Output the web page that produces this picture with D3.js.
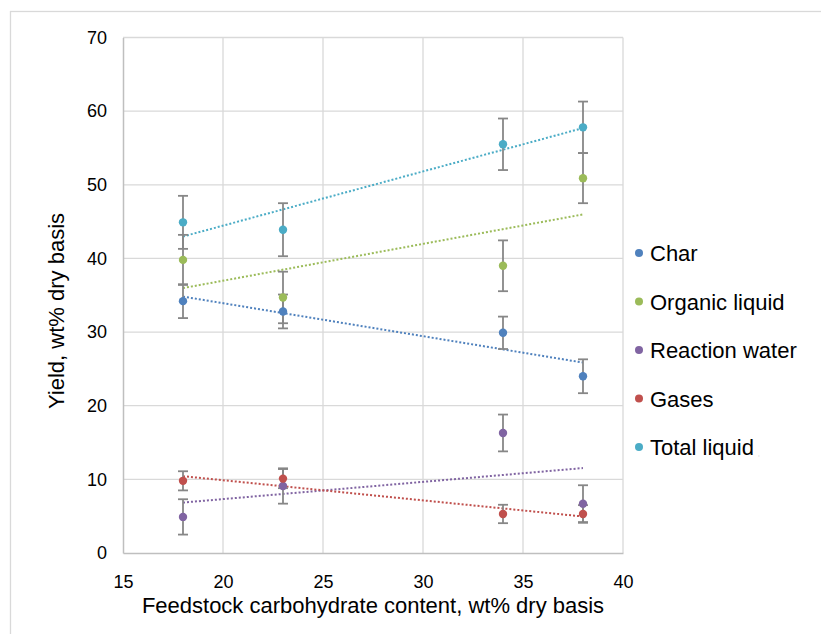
<!DOCTYPE html>
<html>
<head>
<meta charset="utf-8">
<script src="https://cdn.jsdelivr.net/npm/d3@7"></script>
<style>
  html, body { margin: 0; padding: 0; background: #fff; }
  svg { display: block; font-family: "Liberation Sans", Arial, sans-serif; }
</style>
</head>
<body>
<svg id="chart" width="821" height="634"></svg>
<script>
// Feedstock carbohydrate content (x) and product yields (wt% dry basis)
const carbs = [18, 23, 34, 38];
const seriesNames = ["Char", "Organic liquid", "Reaction water", "Gases", "Total liquid"];
const seriesColors = ["#4f81bd", "#9bbb59", "#8064a2", "#c0504d", "#4bacc6"];
const charYield = [34.2, 32.8, 29.9, 24.0];
const charErr = [2.3, 2.3, 2.2, 2.3];
const organicYield = [39.8, 34.7, 39.0, 50.9];
const organicErr = [3.4, 3.5, 3.45, 3.4];
const waterYield = [4.9, 9.1, 16.3, 6.7];
const waterErr = [2.4, 2.4, 2.5, 2.5];
const gasYield = [9.8, 10.1, 5.3, 5.3];
const gasErr = [1.3, 1.3, 1.25, 1.2];
const totalLiquidYield = [44.9, 43.9, 55.5, 57.8];
const totalLiquidErr = [3.6, 3.6, 3.5, 3.5];
const xTicks = [15, 20, 25, 30, 35, 40];
const yTicks = [0, 10, 20, 30, 40, 50, 60, 70];

const values = [charYield, organicYield, waterYield, gasYield, totalLiquidYield];
const errors = [charErr, organicErr, waterErr, gasErr, totalLiquidErr];
const series = seriesNames.map((name, i) => ({
  name, color: seriesColors[i],
  points: carbs.map((c, j) => ({ x: c, y: values[i][j], e: errors[i][j] }))
}));

const svg = d3.select("#chart");
const plot = { left: 123, right: 623, top: 37.5, bottom: 553 };
const x = d3.scaleLinear().domain([15, 40]).range([plot.left, plot.right]);
const y = d3.scaleLinear().domain([0, 70]).range([plot.bottom, plot.top]);

// chart area frame
svg.append("rect").attr("x", 10.5).attr("y", 11.5).attr("width", 830).attr("height", 640)
  .attr("fill", "none").attr("stroke", "#d9d9d9").attr("stroke-width", 1.3);

// gridlines
const grid = svg.append("g");
grid.selectAll("line.h").data(yTicks.filter(t => t > 0)).join("line")
  .attr("x1", plot.left).attr("x2", plot.right)
  .attr("y1", d => y(d)).attr("y2", d => y(d))
  .attr("stroke", "#d9d9d9").attr("stroke-width", 1.3);
grid.selectAll("line.v").data(xTicks.filter(t => t > 15)).join("line")
  .attr("x1", d => x(d)).attr("x2", d => x(d))
  .attr("y1", plot.top).attr("y2", plot.bottom)
  .attr("stroke", "#d9d9d9").attr("stroke-width", 1.3);

// axes
const xAxis = svg.append("g").attr("transform", `translate(0,${plot.bottom})`)
  .call(d3.axisBottom(x).tickValues(xTicks).tickSize(0).tickPadding(22));
const yAxis = svg.append("g").attr("transform", `translate(${plot.left},0)`)
  .call(d3.axisLeft(y).tickValues(yTicks).tickSize(0).tickPadding(16));
[xAxis, yAxis].forEach(a => {
  a.select(".domain").attr("stroke", "#bfbfbf").attr("stroke-width", 1.5);
  a.selectAll("text").attr("font-size", 18).attr("fill", "#000")
    .attr("font-family", "Liberation Sans, Arial, sans-serif");
});

// axis titles
svg.append("text").attr("x", 373).attr("y", 613).attr("text-anchor", "middle")
  .attr("font-size", 22).attr("fill", "#000").text("Feedstock carbohydrate content, wt% dry basis");
svg.append("text").attr("transform", "translate(64,311) rotate(-90)").attr("text-anchor", "middle")
  .attr("font-size", 22).attr("fill", "#000").text("Yield, wt% dry basis");

// linear trendlines (least squares over the plotted points)
function fit(pts) {
  const mx = d3.mean(pts, p => p.x), my = d3.mean(pts, p => p.y);
  const sxy = d3.sum(pts, p => (p.x - mx) * (p.y - my));
  const sxx = d3.sum(pts, p => (p.x - mx) ** 2);
  const b = sxy / sxx;
  return xv => my + b * (xv - mx);
}
const trends = svg.append("g");
series.forEach(s => {
  const f = fit(s.points);
  const x0 = d3.min(carbs), x1 = d3.max(carbs);
  trends.append("line")
    .attr("x1", x(x0)).attr("y1", y(f(x0)))
    .attr("x2", x(x1)).attr("y2", y(f(x1)))
    .attr("stroke", s.color).attr("stroke-width", 2)
    .attr("stroke-dasharray", "2,2");
});

// error bars
const bars = svg.append("g").attr("stroke", "#878787").attr("stroke-width", 1.8);
series.forEach(s => {
  s.points.forEach(p => {
    const cx = x(p.x);
    bars.append("line").attr("x1", cx).attr("x2", cx).attr("y1", y(p.y + p.e)).attr("y2", y(p.y - p.e));
    [p.y + p.e, p.y - p.e].forEach(v => {
      bars.append("line").attr("x1", cx - 5).attr("x2", cx + 5).attr("y1", y(v)).attr("y2", y(v));
    });
  });
});

// markers
const marks = svg.append("g");
series.forEach(s => {
  marks.selectAll(null).data(s.points).join("circle")
    .attr("cx", d => x(d.x)).attr("cy", d => y(d.y)).attr("r", 4.2)
    .attr("fill", s.color);
});

// legend
const legend = svg.append("g").attr("transform", "translate(639,253)");
const rowH = 48.5;
series.forEach((s, i) => {
  const g = legend.append("g").attr("transform", `translate(0,${i * rowH})`);
  g.append("circle").attr("r", 4).attr("fill", s.color);
  g.append("text").attr("x", 11).attr("y", 8).attr("font-size", 22).attr("fill", "#000").text(s.name);
});
legend.append("text").attr("x", 119).attr("y", 4 * rowH + 9).attr("font-size", 6)
  .attr("fill", "#aaa").text(",");
</script>
</body>
</html>
